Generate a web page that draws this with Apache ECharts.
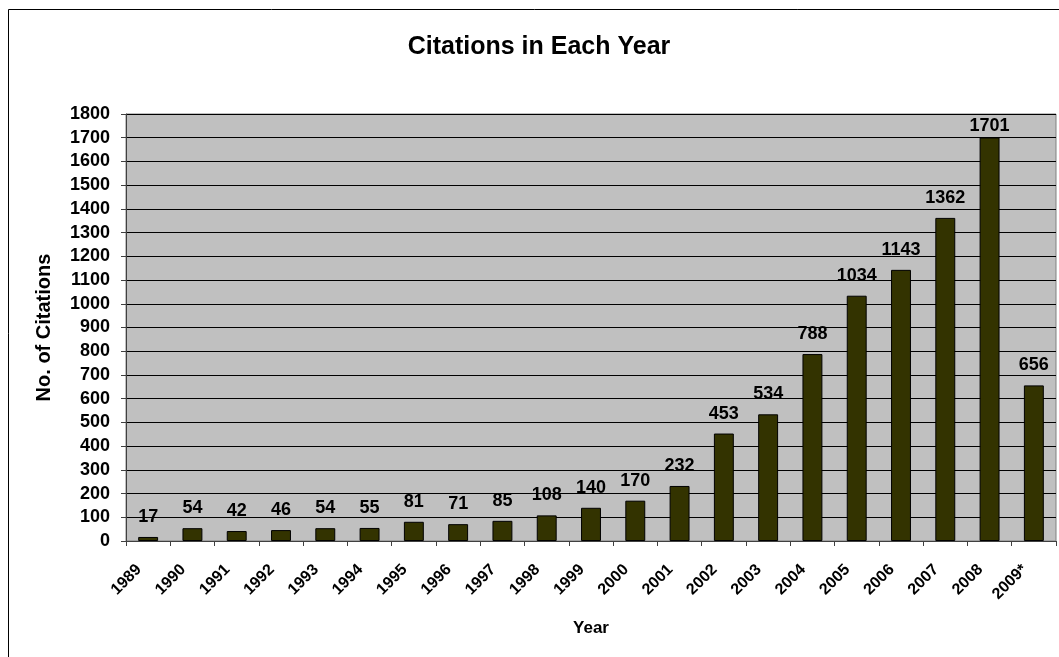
<!DOCTYPE html>
<html>
<head>
<meta charset="utf-8">
<script src="https://cdn.jsdelivr.net/npm/echarts@6/dist/echarts.min.js"></script>
<style>
  html, body { margin: 0; padding: 0; background: #fff; }
  #chart { width: 1059px; height: 657px; }
</style>
</head>
<body>
<div id="chart"></div>
<script>
// Citation counts per year
const years = ['1989','1990','1991','1992','1993','1994','1995','1996','1997','1998','1999',
               '2000','2001','2002','2003','2004','2005','2006','2007','2008','2009*'];
const citations = [17, 54, 42, 46, 54, 55, 81, 71, 85, 108, 140,
                   170, 232, 453, 534, 788, 1034, 1143, 1362, 1701, 656];
const yTicks = { min: 0, max: 1800, interval: 100 };

const font = 'Liberation Sans, Arial, Helvetica, sans-serif';
const chart = echarts.init(document.getElementById('chart'), null, { renderer: 'canvas' });

// Labels sit above each bar; a bar reaching near the top keeps its label inside the frame
const barData = citations.map(v => (
  v > yTicks.max - 150
    ? { value: v, label: { distance: 2 } }
    : v
));

chart.setOption({
  animation: false,
  backgroundColor: '#ffffff',
  title: {
    text: 'Citations in Each Year',
    left: 534,
    top: 30,
    textAlign: 'center',
    textStyle: { fontFamily: font, fontSize: 25, fontWeight: 'bold', color: '#000' }
  },
  graphic: [{
    type: 'rect',
    shape: { x: 8.5, y: 9.5, width: 1100, height: 700 },
    style: { fill: 'none', stroke: '#000', lineWidth: 1 },
    silent: true,
    z: 100
  }],
  grid: {
    left: 126, top: 114, right: 3, bottom: 116,
    show: true,
    backgroundColor: '#c0c0c0',
    borderColor: '#808080',
    borderWidth: 1
  },
  xAxis: {
    type: 'category',
    data: years,
    name: 'Year',
    nameLocation: 'middle',
    nameGap: 79,
    nameTextStyle: { fontFamily: font, fontSize: 17, fontWeight: 'bold', color: '#000' },
    axisLine: { lineStyle: { color: '#404040', width: 1 } },
    axisTick: { show: true, alignWithLabel: false, length: 5, lineStyle: { color: '#404040' } },
    axisLabel: {
      rotate: 45, interval: 0, margin: 17,
      padding: [0, 13, 0, 0],
      fontFamily: font, fontSize: 16, fontWeight: 'bold', color: '#000'
    }
  },
  yAxis: {
    type: 'value',
    min: yTicks.min, max: yTicks.max, interval: yTicks.interval,
    name: 'No. of Citations',
    nameLocation: 'middle',
    nameGap: 72,
    nameRotate: 90,
    nameTextStyle: { fontFamily: font, fontSize: 20, fontWeight: 'bold', color: '#000' },
    axisLine: { show: true, lineStyle: { color: '#404040', width: 1 } },
    axisTick: { show: true, inside: false, length: 5, lineStyle: { color: '#404040' } },
    splitLine: { show: true, lineStyle: { color: '#000', width: 1 } },
    axisLabel: {
      margin: 16, formatter: v => String(v),
      fontFamily: font, fontSize: 18, fontWeight: 'bold', color: '#000'
    }
  },
  series: [{
    type: 'bar',
    data: barData,
    barWidth: '45%',
    itemStyle: { color: '#333300', borderColor: '#000', borderWidth: 1 },
    label: {
      show: true,
      position: 'top',
      distance: 11,
      fontFamily: font, fontSize: 18, fontWeight: 'bold', color: '#000'
    }
  }]
});
</script>
</body>
</html>
